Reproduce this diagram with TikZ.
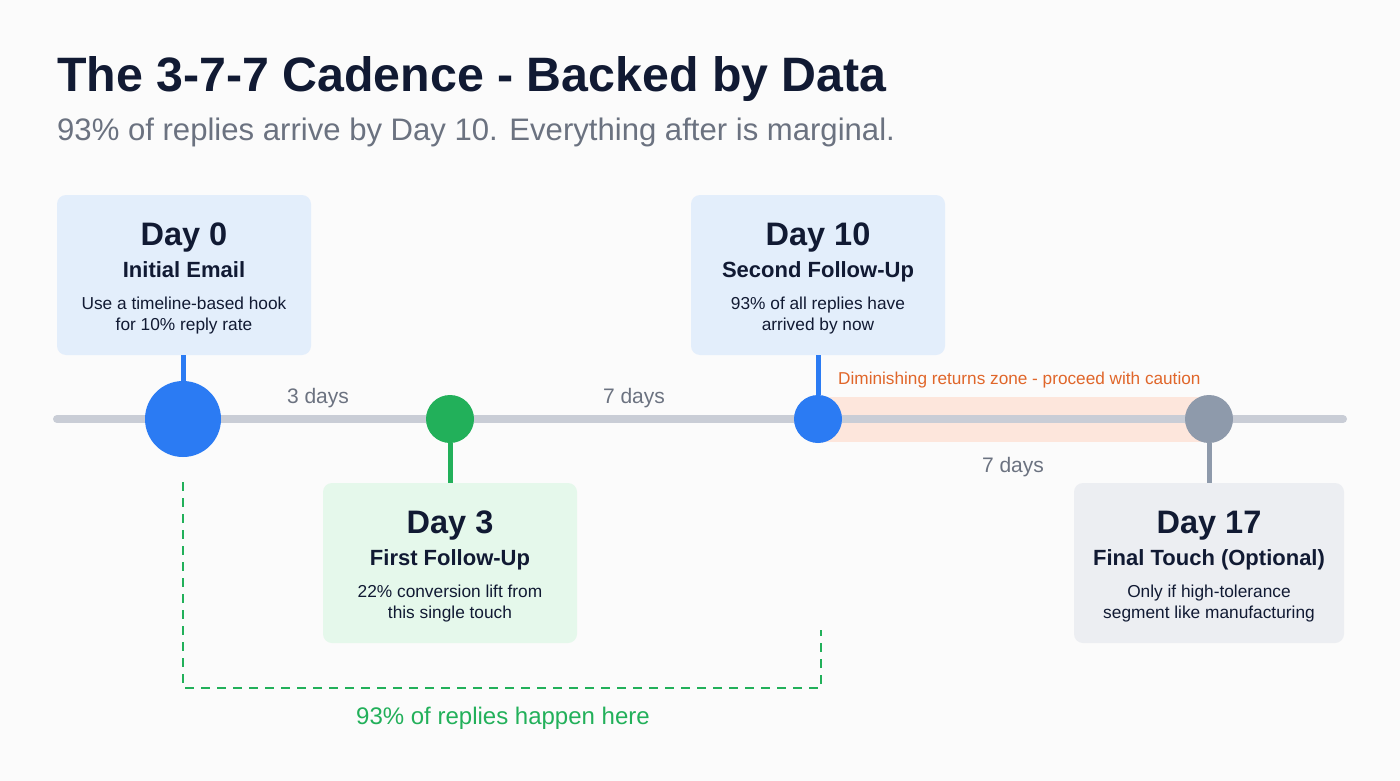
\documentclass[tikz,border=0pt]{standalone}
\usepackage{fontspec}
\setmainfont{Liberation Sans}
\definecolor{navy}{HTML}{111A33}
\definecolor{subgray}{HTML}{6B7280}
\definecolor{linegray}{HTML}{C9CDD6}
\definecolor{bluec}{HTML}{2B7BF3}
\definecolor{greenc}{HTML}{22B05A}
\definecolor{grayc}{HTML}{8E9AAB}
\definecolor{bluebox}{HTML}{E3EEFB}
\definecolor{greenbox}{HTML}{E5F8EB}
\definecolor{graybox}{HTML}{ECEEF2}
\definecolor{zonefill}{HTML}{FDE6DC}
\definecolor{orangec}{HTML}{E0662A}
\definecolor{bgc}{HTML}{FBFBFB}
\begin{document}
\begin{tikzpicture}[x=1pt,y=-1pt,
  card/.style={rounded corners=9pt, draw=none, minimum width=#1, minimum height=160pt, inner sep=0pt},
  daytxt/.style={anchor=base, text=navy, font=\fontsize{32.5}{40}\selectfont\bfseries},
  ttltxt/.style={anchor=base, text=navy, font=\fontsize{22}{28}\selectfont\bfseries},
  desctxt/.style={anchor=base, text=navy, font=\fontsize{17.3}{21.5}\selectfont},
  gaptxt/.style={anchor=base, text=subgray, font=\fontsize{21}{24}\selectfont},
  stem/.style={line width=5pt},
  dot/.style={circle, inner sep=0pt, minimum size=#1}
]
\fill[bgc] (0,0) rectangle (1400,781);
\useasboundingbox (0,0) rectangle (1400,781);

% title
\node[anchor=base west, text=navy, font=\fontsize{48.3}{56}\selectfont\bfseries, inner sep=0pt] (title) at (57,92) {The 3-7-7 Cadence - Backed by Data};
\node[anchor=base west, text=subgray, font=\fontsize{31.1}{36}\selectfont, inner sep=0pt] (subtitle) at (57,140) {93\% of replies arrive by Day 10. Everything after is marginal.};

% zone
\fill[zonefill] (818,397) rectangle (1209,442);
\node[anchor=base west, text=orangec, font=\fontsize{17.2}{20}\selectfont, inner sep=0pt] (zonelbl) at (838,384) {Diminishing returns zone - proceed with caution};

% timeline
\coordinate (tl0) at (57,419);
\coordinate (tl1) at (1343,419);
\draw[linegray, line width=8pt, line cap=round] (tl0) -- (tl1);

% cards
\node[card=254pt, fill=bluebox] (c0) at (184,275) {};
\node[card=254pt, fill=bluebox] (c10) at (818,275) {};
\node[card=254pt, fill=greenbox] (c3) at (450,563) {};
\node[card=270pt, fill=graybox] (c17) at (1209,563) {};

% dots
\node[dot=76pt, fill=bluec] (d0) at (183,419) {};
\node[dot=48pt, fill=greenc] (d3) at (450,419) {};
\node[dot=48pt, fill=bluec] (d10) at (818,419) {};
\node[dot=48pt, fill=grayc] (d17) at (1209,419) {};

% stems
\draw[stem, bluec] (c0.south -| d0) -- (d0.north);
\draw[stem, greenc] (d3.south) -- (c3.north -| d3);
\draw[stem, bluec] (c10.south -| d10) -- (d10.north);
\draw[stem, grayc] (d17.south) -- (c17.north -| d17);

% card texts
\node[daytxt] (t0a) at ([yshift=-51pt]c0.north) {Day 0};
\node[ttltxt] (t0b) at ([yshift=-83pt]c0.north) {Initial Email};
\node[desctxt] (t0c) at ([yshift=-115pt]c0.north) {Use a timeline-based hook};
\node[desctxt] (t0d) at ([yshift=-136pt]c0.north) {for 10\% reply rate};

\node[daytxt] (t10a) at ([yshift=-51pt]c10.north) {Day 10};
\node[ttltxt] (t10b) at ([yshift=-83pt]c10.north) {Second Follow-Up};
\node[desctxt] (t10c) at ([yshift=-115pt]c10.north) {93\% of all replies have};
\node[desctxt] (t10d) at ([yshift=-136pt]c10.north) {arrived by now};

\node[daytxt] (t3a) at ([yshift=-51pt]c3.north) {Day 3};
\node[ttltxt] (t3b) at ([yshift=-83pt]c3.north) {First Follow-Up};
\node[desctxt] (t3c) at ([yshift=-115pt]c3.north) {22\% conversion lift from};
\node[desctxt] (t3d) at ([yshift=-136pt]c3.north) {this single touch};

\node[daytxt] (t17a) at ([yshift=-51pt]c17.north) {Day 17};
\node[ttltxt] (t17b) at ([yshift=-83pt]c17.north) {Final Touch (Optional)};
\node[desctxt] (t17c) at ([yshift=-115pt]c17.north) {Only if high-tolerance};
\node[desctxt] (t17d) at ([yshift=-136pt]c17.north) {segment like manufacturing};

% gap labels
\node[gaptxt] (g1) at (318,403) {3 days};
\node[gaptxt] (g2) at (634,403) {7 days};
\node[gaptxt] (g3) at (1013,472) {7 days};

% bracket
\coordinate (b0) at (183,482);
\coordinate (b1) at (183,688);
\coordinate (b2) at (821,688);
\coordinate (b3) at (821,630);
\draw[greenc, line width=2pt, dash pattern=on 9pt off 7pt] (b0) -- (b1) -- (b2) -- (b3);
\node[anchor=base, text=greenc, font=\fontsize{24}{28}\selectfont, inner sep=0pt] (blbl) at (503,724) {93\% of replies happen here};
\end{tikzpicture}
\end{document}
